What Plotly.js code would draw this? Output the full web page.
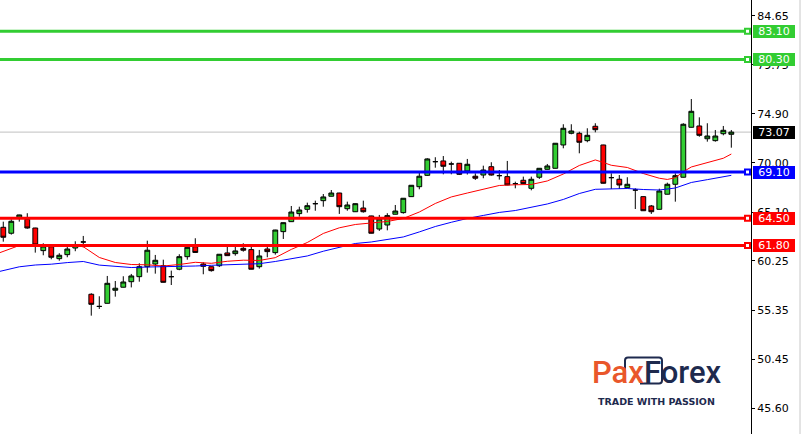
<!DOCTYPE html>
<html><head><meta charset="utf-8">
<script src="https://cdn.plot.ly/plotly-3.0.1.min.js"></script>
<style>html,body{margin:0;padding:0;background:#fff;}#chart{width:802px;height:434px;}</style>
</head><body><div id="chart"></div>
<script>
const opens=[63.60,63.01,64.58,64.40,63.53,61.28,61.67,60.48,60.88,61.54,62.14,56.94,55.73,56.04,57.34,57.64,58.19,58.69,59.68,59.95,59.78,58.69,59.43,60.68,61.67,59.95,59.68,59.78,61.05,60.98,61.51,61.38,59.68,61.44,61.08,63.17,64.16,64.96,65.39,65.95,66.25,66.69,67.01,65.45,65.15,65.52,64.73,63.43,63.83,64.90,65.06,66.65,67.64,68.77,70.13,70.20,69.90,69.97,69.20,68.68,68.80,69.63,68.74,68.64,67.94,68.28,67.48,68.58,69.37,69.47,71.79,72.95,72.95,72.22,73.65,71.79,68.54,68.38,67.54,67.31,66.65,65.72,65.39,66.89,67.88,68.58,73.55,73.68,72.41,72.22,72.91,72.85];
const highs=[64.16,64.40,64.85,65.00,63.55,62.01,61.70,61.02,61.67,62.21,62.74,57.04,56.74,58.76,58.26,58.73,58.96,60.02,62.27,60.85,60.38,59.29,60.92,61.74,62.51,60.12,59.70,60.94,61.64,61.64,62.01,61.84,61.35,61.84,63.35,64.08,65.72,65.65,66.05,66.25,66.91,67.31,67.03,66.15,65.97,66.25,64.75,64.83,65.00,65.82,66.51,67.80,69.03,70.47,70.57,70.69,70.13,69.99,70.40,68.97,69.73,70.07,69.30,70.20,68.14,68.64,68.64,69.49,69.90,71.98,73.85,73.85,73.11,73.45,73.95,71.81,68.97,68.80,68.58,67.48,66.67,65.82,67.44,68.04,68.97,73.95,76.36,74.54,73.95,73.28,73.68,73.28];
const lows=[62.17,62.87,64.16,63.46,61.08,60.82,60.42,60.28,60.62,61.22,61.61,54.81,55.48,56.02,56.70,57.62,57.62,58.19,59.09,58.99,58.11,57.86,59.33,60.38,61.08,58.93,59.19,59.65,60.77,60.78,61.18,59.42,59.49,60.62,60.88,62.44,64.14,64.66,65.06,65.25,65.65,66.67,64.93,65.25,65.13,65.06,62.99,63.24,63.30,64.88,64.96,66.63,67.38,68.71,69.53,68.87,68.87,68.80,68.85,68.31,68.48,68.74,68.34,67.79,67.48,67.92,67.28,68.41,69.35,69.45,71.46,72.85,70.96,72.06,73.05,67.96,67.41,67.41,67.48,65.42,65.23,64.93,65.37,66.87,66.15,68.56,73.53,72.61,72.12,72.12,72.75,71.52];
const closes=[62.61,64.20,64.83,63.53,61.84,61.74,60.62,60.82,61.44,61.79,62.14,55.94,55.73,58.03,57.54,58.16,58.76,59.68,61.32,60.32,58.13,58.69,60.68,61.61,61.10,59.72,59.29,60.92,60.78,61.25,61.32,59.43,60.75,61.18,63.33,64.06,65.12,65.32,65.75,65.95,66.62,67.01,65.65,65.82,65.95,65.15,63.01,64.43,64.76,65.22,66.49,67.78,68.68,70.40,70.13,69.67,69.90,68.87,69.87,68.48,69.30,68.80,68.74,67.81,67.94,67.94,68.38,69.47,69.70,71.96,73.45,73.18,72.06,72.75,73.31,67.98,68.54,67.81,67.88,67.31,65.25,65.15,67.21,67.88,68.74,73.85,75.14,72.75,72.68,72.68,73.25,73.07];

const redMaIdx=[-1,0,2,4,6,8,10,12,14,16,18,20,22,24,26,28,30,32,34,36,38,40,42,44,46,48,50,52,54,56,58,60,62,64,66,68,70,72,74,75,76,78,80,82,83,84,85,86,88,90,91];
const redMa=[60.91,61.20,61.79,61.84,61.86,61.84,61.67,60.60,60.10,59.90,59.87,59.75,59.90,60.12,60.02,60.22,60.33,60.30,60.58,61.40,62.09,62.99,63.55,63.88,64.03,64.18,64.48,65.12,65.97,66.62,67.01,67.36,67.76,67.83,67.86,68.21,68.90,69.75,70.30,70.05,69.77,69.55,68.95,68.48,68.36,68.53,69.13,69.60,70.05,70.47,70.89];
const blueMaIdx=[-1,0,2,4,6,8,10,12,14,16,18,20,22,24,26,28,30,32,34,36,38,40,42,44,46,48,50,52,54,56,58,60,62,64,66,68,70,72,74,76,78,80,82,84,86,88,90,91];
const blueMa=[59.11,59.31,59.67,59.85,59.93,60.09,60.20,59.84,59.72,59.60,59.65,59.67,59.68,59.75,59.82,59.87,59.93,59.98,60.20,60.48,60.75,61.22,61.64,61.99,62.14,62.39,62.64,63.14,63.68,64.10,64.48,64.78,65.08,65.27,65.57,65.92,66.37,66.96,67.38,67.39,67.46,67.36,67.31,67.51,68.06,68.34,68.58,68.77];

const levelValues=[83.10,80.30,69.10,64.50,61.80];
const levelColors=['#32CD32','#32CD32','#0000FF','#FF0000','#FF0000'];
const lastPrice=73.07;
const tickValues=[84.65,79.75,74.90,70.00,65.10,60.25,55.35,50.45,45.60];
const tickLabels=['84.65','79.75','74.90','70.00','65.10','60.25','55.35','50.45','45.60'];

const W=802,H=434,R=51,PW=W-R;
const FONT='DejaVu Sans';
const candleX=opens.map((_,i)=>i);

const traces=[
  {type:'scatter',mode:'lines',x:redMaIdx,y:redMa,line:{color:'#FF0000',width:1},hoverinfo:'skip'},
  {type:'scatter',mode:'lines',x:blueMaIdx,y:blueMa,line:{color:'#0000FF',width:1},hoverinfo:'skip'},
  {type:'candlestick',x:candleX,open:opens,high:highs,low:lows,close:closes,
   increasing:{line:{color:'#000000',width:1},fillcolor:'#32CD32'},
   decreasing:{line:{color:'#000000',width:1},fillcolor:'#FF0000'},
   whiskerwidth:0,hoverinfo:'skip'}
];

const shapes=[];
shapes.push({type:'line',xref:'paper',x0:0,x1:1,yref:'y',y0:lastPrice,y1:lastPrice,line:{color:'#C0C0C0',width:1},layer:'below'});
levelValues.forEach((v,k)=>{
  shapes.push({type:'line',xref:'paper',x0:0,x1:1,yref:'y',y0:v,y1:v,line:{color:levelColors[k],width:3},layer:'above'});
  shapes.push({type:'rect',xref:'paper',xsizemode:'pixel',xanchor:1,x0:-6,x1:-1,yref:'y',ysizemode:'pixel',yanchor:v,y0:-2.5,y1:2.5,fillcolor:'#FFFFFF',line:{color:levelColors[k],width:2},layer:'above'});
});
shapes.push({type:'line',xref:'paper',yref:'paper',x0:800/PW,x1:800/PW,y0:0,y1:1,line:{color:'#C8C8C8',width:1}});
// logo frame
const px=x=>x/PW, py=y=>1-y/H;
shapes.push({type:'path',xref:'paper',yref:'paper',
  path:`M ${px(628)},${py(357.5)} L ${px(659)},${py(357.5)} Q ${px(662)},${py(357.5)} ${px(662)},${py(360.5)} L ${px(662)},${py(380.5)} Q ${px(662)},${py(383.5)} ${px(659)},${py(383.5)} L ${px(640)},${py(383.5)} M ${px(625)},${py(372)} L ${px(625)},${py(360.5)} Q ${px(625)},${py(357.5)} ${px(628)},${py(357.5)}`,
  line:{color:'#1E2A4E',width:2},layer:'below'});

const annotations=[];
levelValues.forEach((v,k)=>{
  annotations.push({xref:'paper',x:753/PW,xanchor:'left',yref:'y',y:v,yanchor:'middle',text:v.toFixed(2),showarrow:false,
    bgcolor:levelColors[k],font:{family:FONT,size:11,color:'#FFFFFF'},width:42,height:13,borderpad:0,borderwidth:0});
});
annotations.push({xref:'paper',x:753/PW,xanchor:'left',yref:'y',y:lastPrice,yanchor:'middle',text:lastPrice.toFixed(2),showarrow:false,
    bgcolor:'#000000',font:{family:FONT,size:11,color:'#FFFFFF'},width:42,height:13,borderpad:0,borderwidth:0});
annotations.push({xref:'paper',yref:'paper',x:px(590),xanchor:'left',y:py(372.5),yanchor:'middle',showarrow:false,
  text:'<span style="color:#E9572B">Pax</span><span style="color:#1E2A4E">Forex</span>',
  font:{family:'Roboto',size:31,weight:500,color:'#1E2A4E'}});
annotations.push({xref:'paper',yref:'paper',x:px(656),xanchor:'center',y:py(401),yanchor:'middle',showarrow:false,
  text:'TRADE WITH PASSION',font:{family:'DejaVu Sans',size:9.5,weight:700,color:'#1E2A4E'}});

const layout={
  width:W,height:H,margin:{l:0,r:R,t:0,b:0},paper_bgcolor:'#FFFFFF',plot_bgcolor:'#FFFFFF',
  showlegend:false,boxgap:0.4,boxgroupgap:0,hovermode:false,
  xaxis:{range:[-0.41,93.46],visible:false,showgrid:false,zeroline:false,rangeslider:{visible:false},fixedrange:true},
  yaxis:{side:'right',range:[43.04,86.21],tickmode:'array',tickvals:tickValues,ticktext:tickLabels,
    ticks:'outside',ticklen:3,tickcolor:'#000000',showline:true,linecolor:'#000000',linewidth:1,
    showgrid:false,zeroline:false,tickfont:{family:FONT,size:11,color:'#000000'},fixedrange:true},
  shapes:shapes,annotations:annotations
};
Plotly.newPlot('chart',traces,layout,{displayModeBar:false,staticPlot:true});
</script></body></html>
